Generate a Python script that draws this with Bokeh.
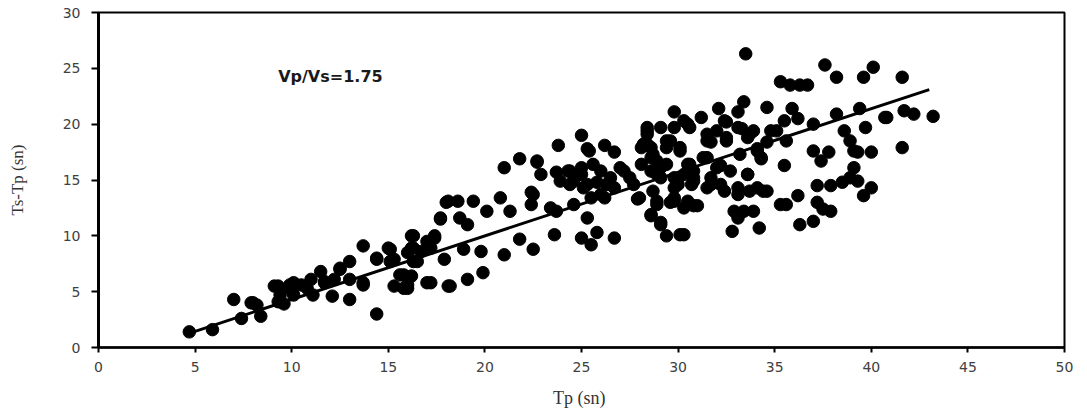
from bokeh.plotting import figure
from bokeh.models import Range1d, FixedTicker, Label
from bokeh.embed import file_html
from bokeh.resources import INLINE

# Scatter data (Tp, Ts-Tp) in seconds
tp = [
    4.7, 5.9, 7.0, 7.9, 8.2, 7.4, 8.4, 9.3, 9.4, 9.3, 9.9, 10.1, 10.5, 11.0, 11.5, 11.7, 12.1, 12.5,
    13.0, 13.0, 13.7, 13.7, 14.4, 14.4, 15.1, 15.1, 15.3, 15.8, 16.0, 16.2, 16.2, 16.5, 17.0, 17.2,
    17.4, 17.7, 17.9, 18.0, 18.1, 9.1, 10.1, 10.8, 11.7, 12.2, 13.0, 13.7, 15.6, 16.0, 9.4, 11.1,
    12.5, 14.4, 15.0, 15.3, 16.3, 16.7, 16.3, 17.4, 9.6, 8.0, 9.9,
    18.1, 18.6, 19.4, 20.8, 17.7, 18.7, 19.1, 20.1, 21.3, 22.4, 22.4, 23.4, 23.7, 21.0, 21.8, 22.7,
    22.9, 23.8, 25.0, 25.3, 26.2, 26.7, 25.4, 24.3, 24.6, 23.9, 25.0, 25.3, 26.0, 26.3, 24.6, 25.3,
    26.0, 27.0, 27.7, 28.1, 28.4, 28.4, 28.7, 29.1, 29.4, 30.1, 30.3, 30.6, 30.8, 28.0, 28.6, 29.1,
    29.8, 30.3, 30.8, 29.4, 30.1, 25.0, 25.5, 25.8, 26.7, 23.6, 21.8, 22.5, 21.0, 19.8, 18.9, 19.9,
    19.1, 18.2, 17.2, 16.2, 16.0, 17.0, 16.3, 15.8,
    22.7, 23.7, 24.4, 25.0, 25.6, 24.4, 25.1, 25.8, 26.5, 27.2, 27.5, 28.1, 28.6, 28.9, 22.5, 25.5,
    26.2, 26.7, 27.9, 28.6, 28.2,
    33.5, 37.6, 40.1, 38.2, 39.6, 41.6, 35.3, 35.8, 36.3, 36.7, 33.4, 32.1, 29.8, 31.2, 33.1, 34.6,
    35.9, 38.2, 39.4, 40.7, 41.7, 42.2, 43.2, 30.3, 32.4, 33.1, 33.9, 35.5, 36.2, 37.0, 35.1, 31.5,
    31.5, 32.5, 33.6, 34.6, 35.6, 38.6, 39.7, 38.9, 34.1, 34.3, 37.0, 37.8, 37.4, 39.1, 40.0, 41.6,
    35.5, 39.1, 38.9, 38.5, 40.0, 39.6, 37.2, 37.9, 36.2, 35.3, 35.6, 37.2, 37.5, 37.9, 37.0, 36.3,
    32.9, 33.4, 33.9, 33.1, 32.8, 34.2, 29.6, 31.0, 29.1, 30.3,
    29.1, 29.6, 30.1, 29.4, 30.6, 31.5, 32.0, 32.7, 33.6, 29.1, 30.0, 30.8, 31.7, 32.4, 33.1, 33.7,
    34.4, 32.0, 28.6, 28.6, 28.7, 28.9,
    32.5, 31.7, 32.5, 33.3, 33.7, 34.8, 28.4, 29.8, 30.5, 28.4, 29.4, 28.9, 30.5, 31.3, 32.2, 33.2,
    34.1, 34.3, 29.8, 30.8, 31.7, 33.6, 29.8, 30.7, 31.5, 32.2, 33.1, 34.1, 34.6, 28.9, 29.8, 30.5,
    40.8, 39.3, 39.3,
]
ts_tp = [
    1.4, 1.6, 4.3, 4.0, 3.8, 2.6, 2.8, 4.1, 4.7, 5.5, 5.3, 4.7, 5.6, 6.1, 6.8, 5.9, 4.6, 7.0,
    7.7, 4.3, 9.1, 5.6, 7.9, 3.0, 8.8, 7.7, 5.5, 6.5, 5.3, 8.9, 10.0, 7.7, 5.8, 8.9,
    9.8, 11.5, 7.9, 13.0, 5.5, 5.5, 5.8, 5.3, 5.8, 6.1, 6.1, 5.8, 6.5, 5.6, 4.1, 4.7,
    7.1, 8.0, 8.9, 7.9, 7.7, 8.6, 10.0, 10.0, 3.9, 4.0, 5.6,
    13.1, 13.1, 13.1, 13.4, 11.6, 11.6, 11.0, 12.2, 12.2, 13.9, 12.8, 12.5, 12.2, 16.1, 16.9, 16.6,
    15.5, 18.1, 19.0, 17.8, 18.1, 17.5, 17.6, 15.8, 14.9, 14.9, 15.5, 14.6, 15.8, 14.6, 12.8, 11.6,
    13.7, 16.1, 14.6, 17.9, 19.1, 19.7, 17.3, 16.1, 18.5, 17.6, 15.5, 19.7, 14.9, 13.4, 11.8, 11.0,
    13.4, 12.5, 12.7, 10.0, 10.1, 9.8, 9.2, 10.3, 9.8, 10.1, 9.7, 8.8, 8.3, 8.6, 8.8, 6.7,
    6.1, 5.5, 5.8, 6.4, 8.5, 9.5, 8.9, 5.3,
    16.7, 15.7, 15.8, 16.1, 16.4, 14.6, 14.3, 14.8, 15.2, 15.8, 15.2, 16.4, 17.0, 15.5, 13.7, 13.4,
    13.4, 14.3, 13.3, 11.9, 18.2,
    26.3, 25.3, 25.1, 24.2, 24.2, 24.2, 23.8, 23.5, 23.5, 23.5, 22.0, 21.4, 21.1, 20.6, 21.1, 21.5,
    21.4, 20.9, 21.4, 20.6, 21.2, 20.9, 20.7, 20.3, 20.3, 19.7, 19.4, 20.3, 20.5, 20.0, 19.4, 19.1,
    18.5, 18.5, 18.8, 18.4, 18.5, 19.4, 19.7, 18.5, 17.8, 17.0, 17.6, 17.5, 16.7, 17.6, 17.5, 17.9,
    16.3, 16.1, 15.2, 14.8, 14.3, 13.6, 14.5, 14.5, 13.6, 12.8, 12.8, 13.0, 12.4, 12.2, 11.3, 11.0,
    12.2, 12.2, 12.2, 11.6, 10.4, 10.7, 13.0, 12.7, 11.2, 10.1,
    19.7, 18.5, 17.9, 16.4, 16.4, 17.0, 16.1, 15.8, 15.5, 15.2, 14.6, 15.2, 14.6, 14.0, 13.7, 14.0,
    14.0, 19.4, 17.9, 15.8, 14.0, 12.8,
    20.2, 18.4, 18.8, 19.6, 19.1, 19.4, 19.4, 19.7, 20.0, 18.2, 17.9, 16.7, 16.4, 17.0, 16.3, 17.3,
    17.6, 16.9, 15.2, 15.8, 15.2, 15.5, 14.3, 14.6, 14.3, 14.6, 14.3, 14.3, 14.0, 13.1, 13.1, 13.1,
    20.6, 17.5, 14.9,
]

# Fitted line end points (Tp, Ts-Tp)
fit_tp = [5.0, 43.0]
fit_ts_tp = [1.45, 23.1]

x_ticks = [0, 5, 10, 15, 20, 25, 30, 35, 40, 45, 50]
y_ticks = [0, 5, 10, 15, 20, 25, 30]

annotation_text = "Vp/Vs=1.75"
x_label = "Tp  (sn)"
y_label = "Ts-Tp (sn)"

p = figure(width=1087, height=418, output_backend="svg", toolbar_location=None,
           x_range=Range1d(0, 50), y_range=Range1d(0, 30),
           min_border_left=98, min_border_right=23, min_border_top=12, min_border_bottom=71)

p.grid.visible = False
p.background_fill_color = "white"
p.border_fill_color = "white"
p.outline_line_color = "black"
p.outline_line_width = 2

p.scatter(tp, ts_tp, size=12.5, color="black", marker="circle")
p.line(fit_tp, fit_ts_tp, line_color="black", line_width=3)

p.add_layout(Label(x=9.3, y=24.3, text=annotation_text, text_font="DejaVu Sans",
                   text_font_style="bold", text_font_size="16px", text_baseline="middle",
                   text_color="#1a1a1a"))

p.xaxis.ticker = FixedTicker(ticks=x_ticks)
p.yaxis.ticker = FixedTicker(ticks=y_ticks)
for ax in (p.xaxis, p.yaxis):
    ax.minor_tick_line_color = None
    ax.major_tick_line_color = "black"
    ax.major_tick_line_width = 2
    ax.major_tick_in = 0
    ax.axis_line_color = "black"
    ax.major_label_text_font = "DejaVu Sans"
    ax.major_label_text_font_size = "14px"
    ax.major_label_text_color = "#404040"
    ax.axis_label_text_font = "Liberation Serif"
    ax.axis_label_text_font_style = "normal"
    ax.axis_label_text_color = "#333333"

p.xaxis.axis_line_width = 2.5
p.yaxis.axis_line_width = 3
p.xaxis.major_tick_out = 5
p.yaxis.major_tick_out = 7
p.xaxis.major_label_standoff = 9
p.yaxis.major_label_standoff = 11
p.xaxis.axis_label = x_label
p.yaxis.axis_label = y_label
p.xaxis.axis_label_text_font_size = "18px"
p.yaxis.axis_label_text_font_size = "17px"
p.xaxis.axis_label_standoff = 13
p.yaxis.axis_label_standoff = 33

open("out.html", "w").write(file_html(p, INLINE))
